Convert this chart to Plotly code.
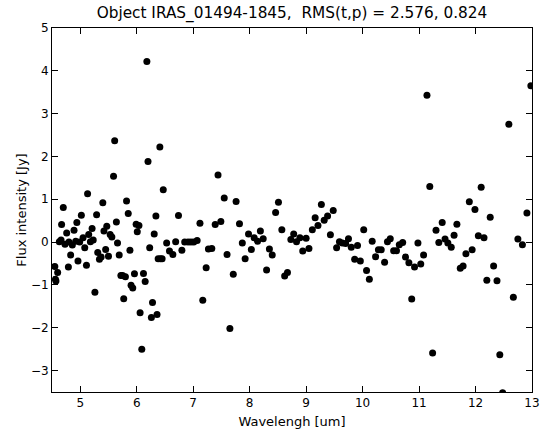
import plotly.graph_objects as go

wavelength = [
    4.55, 4.56, 4.57, 4.60, 4.63, 4.66, 4.67, 4.70, 4.73, 4.76, 4.79, 4.80, 4.83, 4.86, 4.89,
    4.92, 4.94, 4.96, 4.99, 5.02, 5.05, 5.08, 5.11, 5.13, 5.15, 5.18, 5.21, 5.23, 5.26, 5.29,
    5.31, 5.34, 5.37, 5.40, 5.42, 5.45, 5.47, 5.50, 5.53, 5.56, 5.59, 5.61, 5.64, 5.66, 5.69,
    5.72, 5.75, 5.77, 5.80, 5.82, 5.85, 5.88, 5.90, 5.93, 5.96, 5.99, 6.01, 6.04, 6.06, 6.09,
    6.12, 6.15, 6.18, 6.20, 6.23, 6.26, 6.28, 6.31, 6.34, 6.36, 6.38, 6.41, 6.42, 6.45, 6.47,
    6.53, 6.58, 6.64, 6.69, 6.74, 6.80, 6.85, 6.91, 6.96, 7.01, 7.07, 7.12, 7.17, 7.23, 7.27,
    7.33, 7.39, 7.44, 7.49, 7.55, 7.60, 7.65, 7.71, 7.76, 7.82, 7.87, 7.92, 7.98, 8.03, 8.08,
    8.14, 8.19, 8.24, 8.30, 8.35, 8.40, 8.46, 8.51, 8.57, 8.62, 8.67, 8.73, 8.78, 8.83, 8.89,
    8.94, 9.00, 9.05, 9.11, 9.16, 9.21, 9.27, 9.32, 9.38, 9.43, 9.48, 9.54, 9.59, 9.64, 9.70,
    9.75, 9.80, 9.86, 9.91, 9.96, 10.02, 10.07, 10.12, 10.17, 10.23, 10.28, 10.33, 10.39, 10.44,
    10.49, 10.55, 10.60, 10.65, 10.71, 10.76, 10.82, 10.87, 10.92, 10.98, 11.03, 11.08, 11.14,
    11.19, 11.24, 11.30, 11.35, 11.41, 11.46, 11.51, 11.57, 11.62, 11.67, 11.73, 11.78, 11.83,
    11.89, 11.94, 11.99, 12.05, 12.10, 12.15, 12.20, 12.26, 12.32, 12.38, 12.43, 12.48, 12.59,
    12.67, 12.75, 12.83, 12.91, 12.98,
]

flux = [
    -0.57, -0.87, -0.91, -0.71, 0.01, 0.05, 0.41, 0.81, -0.05, 0.21, -0.58, 0.00, -0.30, -0.07, 0.28,
    0.02, 0.46, -0.44, 0.00, 0.63, 0.10, -0.13, -0.54, 1.13, 0.18, 0.01, 0.32, 0.05, -1.17, 0.64,
    -0.24, -0.40, -0.35, 0.92, 0.26, -0.17, 0.37, -0.33, 0.18, 0.12, 1.54, 2.37, 0.47, -0.02, -0.30,
    -0.78, -0.78, -1.32, -0.81, 0.96, 0.67, -0.19, -1.01, -1.07, -0.74, 0.42, 0.24, 0.39, -1.65, -2.50,
    -0.73, -0.92, 4.22, 1.88, -0.13, -1.76, -1.41, 0.19, 0.61, -1.69, -0.39, 2.22, -0.39, -0.39, 1.22,
    -0.02, -0.21, -0.29, 0.01, 0.62, -0.19, 0.00, 0.00, 0.00, 0.00, 0.04, 0.44, -1.36, -0.60, -0.16,
    -0.15, 0.41, 1.57, 0.48, 1.03, -0.29, -2.02, -0.75, 0.95, 0.43, -0.02, -0.39, 0.19, -0.17, 0.10,
    0.02, 0.26, 0.08, -0.65, -0.16, -0.30, 0.69, 0.93, 0.29, -0.79, -0.71, 0.06, 0.19, 0.01, 0.10,
    -0.21, 0.09, -0.15, 0.29, 0.57, 0.39, 0.88, 0.51, 0.61, 0.17, 0.74, -0.13, 0.01, -0.02, -0.03,
    0.08, -0.12, -0.40, -0.08, -0.44, 0.29, -0.66, -0.87, 0.02, -0.34, -0.18, -0.18, -0.47, 0.01,
    0.08, -0.20, -0.20, -0.06, -0.01, -0.35, -0.48, -1.33, -0.58, -0.02, -0.51, -0.30, 3.43,
    1.30, -2.59, 0.28, -0.01, 0.46, 0.07, -0.02, -0.12, 0.16, 0.42, -0.61, -0.56, -0.27,
    0.94, -0.18, 0.76, 0.15, 1.28, 0.10, -0.89, 0.58, -0.56, -0.90, -2.63, -3.52, 2.75,
    -1.29, 0.07, -0.06, 0.68, 3.65,
]

x_ticks = [5, 6, 7, 8, 9, 10, 11, 12, 13]
y_ticks = [-3, -2, -1, 0, 1, 2, 3, 4, 5]

title_text = "Object IRAS_01494-1845,\u00a0 RMS(t,p) = 2.576, 0.824"

fig = go.Figure()
fig.add_trace(go.Scatter(
    x=wavelength, y=flux, mode="markers",
    marker=dict(color="black", size=7, line=dict(width=0)),
    cliponaxis=True,
))

axis_common = dict(
    showgrid=False, zeroline=False, showline=True, linecolor="black", linewidth=1,
    mirror="ticks", ticks="inside", ticklen=6, tickwidth=1, tickcolor="black",
    tickfont=dict(family="DejaVu Sans", size=12, color="black"),
    automargin=False,
)

fig.update_layout(
    width=546, height=434,
    margin=dict(l=52, r=14, t=28, b=42),
    paper_bgcolor="white", plot_bgcolor="white",
    showlegend=False,
    font=dict(family="DejaVu Sans", color="black"),
    title=dict(text=title_text, x=(52 + 240) / 546, xanchor="center",
               y=1 - 13 / 434, yanchor="middle",
               font=dict(family="DejaVu Sans", size=15.3, color="black")),
    xaxis=dict(range=[4.5, 13], tickvals=x_ticks,
               title=dict(text="Wavelengh [um]", standoff=7,
                          font=dict(family="DejaVu Sans", size=13, color="black")),
               **axis_common),
    yaxis=dict(range=[-3.5, 5], tickvals=y_ticks,
               title=dict(text="Flux intensity [Jy]", standoff=1,
                          font=dict(family="DejaVu Sans", size=13, color="black")),
               **axis_common),
)

fig.write_html(
    "out.html",
    config={"displayModeBar": False},
    post_script="document.body.style.margin='0';document.body.style.padding='0';",
)
